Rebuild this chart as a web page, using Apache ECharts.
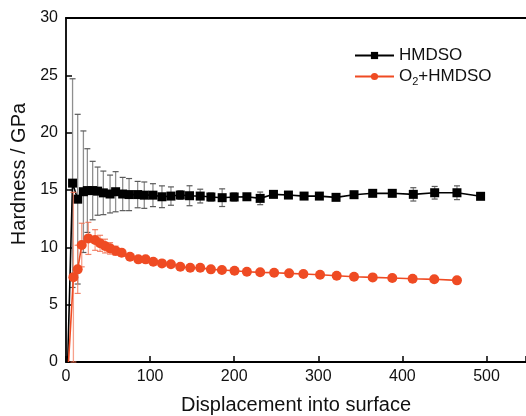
<!DOCTYPE html>
<html><head><meta charset="utf-8">
<script src="https://cdn.jsdelivr.net/npm/echarts@6/dist/echarts.min.js"></script>
<style>html,body{margin:0;padding:0;background:#fff}#c{width:526px;height:416px}</style>
</head><body><div id="c"></div>
<script>
// HMDSO
const hmdsoX = [2, 7.8, 13.9, 20.7, 25.4, 31.7, 37.6, 44.4, 52.4, 59, 67.4, 75, 85.2, 93.1, 103.4, 114.1, 124.8, 135.9, 146.9, 159.6, 172.3, 185.7, 200, 215.1, 230.9, 246.7, 264.5, 283.1, 301.3, 321.1, 342.5, 364.7, 388, 413, 438.4, 464.9, 493];
const hmdsoY = [0, 15.6, 14.2, 14.85, 14.95, 14.95, 14.9, 14.75, 14.65, 14.85, 14.65, 14.6, 14.6, 14.55, 14.55, 14.41, 14.47, 14.56, 14.5, 14.47, 14.39, 14.33, 14.39, 14.41, 14.27, 14.62, 14.56, 14.47, 14.47, 14.36, 14.59, 14.71, 14.71, 14.62, 14.76, 14.76, 14.45];
const hmdsoErr = [0, 9.1, 7.4, 5.3, 3.65, 2.55, 2.1, 1.9, 1.65, 1.75, 1.45, 1.4, 1.15, 1.15, 1.0, 0.95, 0.8, 0.37, 0.87, 0.6, 0.35, 0.77, 0.35, 0.2, 0.55, 0.15, 0.15, 0.1, 0.1, 0.15, 0.1, 0.1, 0.1, 0.58, 0.55, 0.6, 0];
// O2+HMDSO
const o2X = [3, 8.8, 13.9, 18.7, 26.6, 34.6, 40.5, 46.4, 52.4, 59, 66.2, 76.1, 86, 94.7, 103.8, 114.1, 124.8, 135.9, 147.7, 159.6, 172.3, 185.4, 200.4, 215.1, 230.9, 247.5, 265.3, 282.3, 302.1, 321.9, 342.5, 364.7, 388, 412.2, 437.9, 464.9];
const o2Y = [0, 7.4, 8.08, 10.2, 10.78, 10.64, 10.35, 10.11, 9.91, 9.7, 9.53, 9.18, 8.95, 8.95, 8.75, 8.6, 8.52, 8.31, 8.22, 8.22, 8.08, 8.02, 7.96, 7.87, 7.82, 7.79, 7.73, 7.67, 7.61, 7.52, 7.44, 7.38, 7.32, 7.26, 7.21, 7.12];
const o2Err = [0, 7.4, 2.1, 1.9, 1.4, 0.9, 0.7, 0.6, 0.5, 0.4, 0.3, 0.2, 0.15, 0.1, 0.1, 0.1, 0.1, 0.1, 0.1, 0.1, 0.1, 0.1, 0.1, 0.1, 0.1, 0.1, 0.1, 0.1, 0.1, 0.1, 0.1, 0.1, 0.1, 0.1, 0.1, 0.1];

const xTicks = [0, 100, 200, 300, 400, 500];
const yTicks = [0, 5, 10, 15, 20, 25, 30];
const seriesNames = ['HMDSO', 'O2+HMDSO'];
const xTitle = 'Displacement into surface';
const yTitle = 'Hardness / GPa';

const ORANGE = '#EF4B23';
const FONT = 'Liberation Sans, Arial, sans-serif';

function lineData(xs, ys) {
  return xs.map((x, i) => ys[i] === 0 ? { value: [x, ys[i]], symbol: 'none' } : [x, ys[i]]);
}
function errData(xs, ys, es) {
  return xs.map((x, i) => [x, ys[i], es[i]]);
}
function errRender(stemColor, capColor) {
  return function (params, api) {
    const x = api.value(0), y = api.value(1), e = api.value(2);
    if (!e) return null;
    const top = api.coord([x, y + e]);
    const bot = api.coord([x, y - e]);
    const hw = 3;
    return {
      type: 'group',
      children: [
        { type: 'line', shape: { x1: top[0], y1: top[1], x2: bot[0], y2: bot[1] }, style: { stroke: stemColor, lineWidth: 1.3 } },
        { type: 'line', shape: { x1: top[0] - hw, y1: top[1], x2: top[0] + hw, y2: top[1] }, style: { stroke: capColor, lineWidth: 1.2 } },
        { type: 'line', shape: { x1: bot[0] - hw, y1: bot[1], x2: bot[0] + hw, y2: bot[1] }, style: { stroke: capColor, lineWidth: 1.2 } }
      ]
    };
  };
}

const chart = echarts.init(document.getElementById('c'), null, { renderer: 'canvas' });
chart.setOption({
  animation: false,
  backgroundColor: '#fff',
  grid: { left: 66, top: 18, right: 0, bottom: 54, containLabel: false, outerBoundsMode: 'none' },
  legend: {
    data: seriesNames,
    orient: 'vertical',
    left: 354,
    top: 46,
    padding: 0,
    itemWidth: 39,
    itemHeight: 9,
    itemGap: 2,
    textStyle: {
      fontFamily: FONT, fontSize: 17, color: '#111', lineHeight: 19,
      rich: {
        m: { fontFamily: FONT, fontSize: 17, color: '#111' },
        sub: { fontFamily: FONT, fontSize: 11, color: '#111', padding: [11, 0, 0, 0] }
      }
    },
    formatter: function (n) { return n === 'O2+HMDSO' ? '{m|O}{sub|2}{m|+HMDSO}' : n; }
  },
  xAxis: [{
    type: 'value', min: 0, max: 547, interval: 100,
    name: xTitle, nameLocation: 'middle', nameGap: 33,
    nameTextStyle: { fontFamily: FONT, fontSize: 20, color: '#111' },
    axisLine: { show: true, lineStyle: { color: '#000', width: 1.8 } },
    axisTick: { show: true, inside: true, length: 6, lineStyle: { color: '#000', width: 1.5 } },
    axisLabel: { fontFamily: FONT, fontSize: 16, color: '#111', margin: 7,
      formatter: v => xTicks.includes(v) ? String(v) : '' },
    splitLine: { show: false }
  }, {
    type: 'value', position: 'top', min: 0, max: 547,
    axisLine: { show: true, onZero: false, lineStyle: { color: '#000', width: 1.8 } },
    axisTick: { show: false }, axisLabel: { show: false }, splitLine: { show: false }
  }],
  yAxis: {
    type: 'value', min: 0, max: 30, interval: 5,
    name: yTitle, nameLocation: 'middle', nameGap: 36, nameRotate: 90,
    nameTextStyle: { fontFamily: FONT, fontSize: 20, color: '#111', padding: [0, 0, 0, 32] },
    axisLine: { show: true, lineStyle: { color: '#000', width: 1.8 } },
    axisTick: { show: true, inside: true, length: 6, lineStyle: { color: '#000', width: 1.5 } },
    axisLabel: { fontFamily: FONT, fontSize: 16, color: '#111', margin: 8,
      formatter: v => yTicks.includes(v) ? String(v) : '' },
    splitLine: { show: false }
  },
  series: [
    {
      name: 'hmdso-err', type: 'custom', z: 1,
      renderItem: errRender('#8f8f8f', '#5a5a5a'),
      data: errData(hmdsoX, hmdsoY, hmdsoErr)
    },
    {
      name: seriesNames[0], type: 'line', z: 2,
      data: lineData(hmdsoX, hmdsoY),
      symbol: 'rect', symbolSize: 9,
      itemStyle: { color: '#000' },
      lineStyle: { color: '#000', width: 1.6 }
    },
    {
      name: 'o2-err', type: 'custom', z: 3,
      renderItem: errRender('rgba(244,130,100,0.75)', 'rgba(240,110,80,0.85)'),
      data: errData(o2X, o2Y, o2Err)
    },
    {
      name: seriesNames[1], type: 'line', z: 4,
      data: lineData(o2X, o2Y),
      symbol: 'circle', symbolSize: 10,
      itemStyle: { color: ORANGE },
      lineStyle: { color: ORANGE, width: 1.6 }
    }
  ]
});
</script>
</body></html>
